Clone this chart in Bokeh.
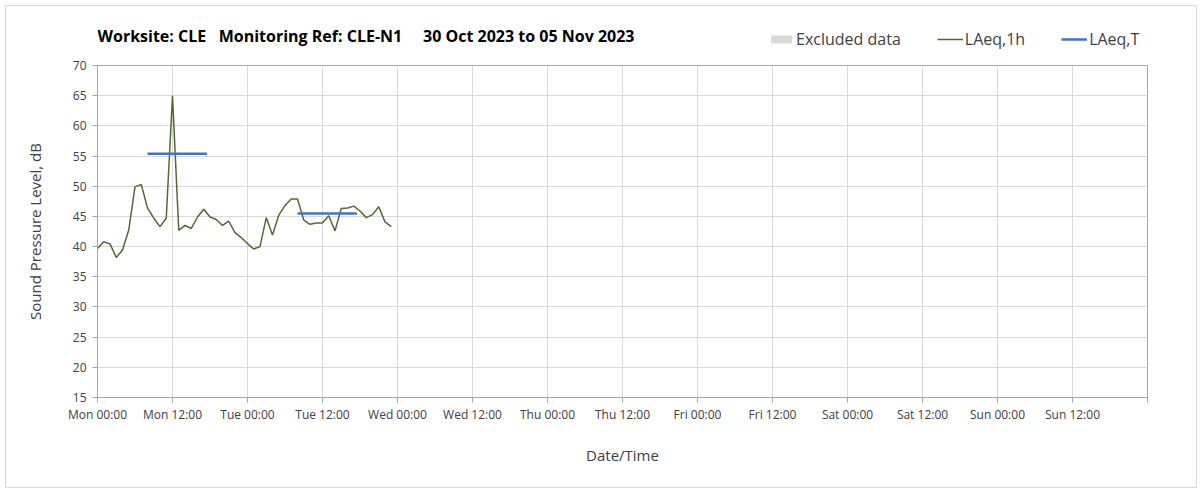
from bokeh.plotting import figure
from bokeh.layouts import column
from bokeh.models import Range1d, FixedTicker, Legend, LegendItem, ColumnDataSource, Label
from bokeh.embed import file_html
from bokeh.resources import INLINE

# ---- data ----
hours = list(range(48))  # hourly timestamps from Mon 30 Oct 2023 00:00
laeq_1h = [39.7, 40.8, 40.45, 38.2, 39.45, 42.75, 49.9, 50.3, 46.4, 44.7, 43.3, 44.7,
           65.0, 42.7, 43.5, 43.0, 44.9, 46.2, 44.9, 44.5, 43.5, 44.2, 42.3, 41.5,
           40.5, 39.6, 40.0, 44.8, 41.9, 45.2, 46.8, 47.9, 47.9, 44.4, 43.7, 43.9,
           43.9, 45.1, 42.6, 46.3, 46.4, 46.7, 45.9, 44.8, 45.3, 46.6, 44.1, 43.3]
laeq_t_start = [8, 32]
laeq_t_end = [17.5, 41.5]
laeq_t_value = [55.4, 45.5]
excluded_start = []   # no excluded periods in this week
excluded_end = []
tick_hours = [0, 12, 24, 36, 48, 60, 72, 84, 96, 108, 120, 132, 144, 156, 168]
tick_labels = ["Mon 00:00", "Mon 12:00", "Tue 00:00", "Tue 12:00", "Wed 00:00", "Wed 12:00",
               "Thu 00:00", "Thu 12:00", "Fri 00:00", "Fri 12:00", "Sat 00:00", "Sat 12:00",
               "Sun 00:00", "Sun 12:00", ""]
y_ticks = [15, 20, 25, 30, 35, 40, 45, 50, 55, 60, 65, 70]
title_text = "Worksite: CLE\u00a0\u00a0\u00a0Monitoring Ref: CLE-N1\u00a0\u00a0\u00a0\u00a0\u00a030 Oct 2023 to 05 Nov 2023"
legend_labels = ["Excluded data", "LAeq,1h", "LAeq,T"]

FONT = "Open Sans"
TXT = "#404040"
C_EXCL, C_1H, C_T = "#d9d9d9", "#4f6b30", "#4472c4"
W = 1190
HEAD_H = 45
BL, BR = 91, 49
FRAME_W = W - BL - BR

# ---- header: title + legend ----
head = figure(width=W, height=HEAD_H, output_backend="svg", toolbar_location=None,
              x_range=Range1d(0, FRAME_W), y_range=Range1d(0, HEAD_H),
              x_axis_location=None, y_axis_location=None, title_location=None,
              min_border_left=BL, min_border_right=BR, min_border_top=0, min_border_bottom=0,
              outline_line_color=None)
head.xgrid.visible = False
head.ygrid.visible = False
head.add_layout(Label(x=0, y=16, text=title_text, text_font=FONT,
                      text_font_size="16px", text_font_style="bold", text_color="#000000",
                      text_baseline="middle", text_align="left"))
nan = float("nan")
k1 = head.quad(left=[nan], right=[nan], top=[nan], bottom=[nan], fill_color=C_EXCL, line_color=None)
k2 = head.line([nan], [nan], line_color=C_1H, line_width=1.5)
k3 = head.line([nan], [nan], line_color=C_T, line_width=2.5)
legend = Legend(items=[LegendItem(label=legend_labels[0], renderers=[k1]),
                       LegendItem(label=legend_labels[1], renderers=[k2]),
                       LegendItem(label=legend_labels[2], renderers=[k3])],
                orientation="horizontal", location=(671, 1),
                label_text_font=FONT, label_text_font_size="16px", label_text_color=TXT,
                glyph_width=26, glyph_height=10, label_standoff=2, spacing=36,
                padding=0, margin=0, border_line_alpha=0, background_fill_alpha=0)
head.add_layout(legend, "center")

# ---- main chart ----
p = figure(width=W, height=436, output_backend="svg", toolbar_location=None,
           x_range=Range1d(0, 168), y_range=Range1d(15, 70), title_location=None,
           min_border_left=BL, min_border_right=BR, min_border_top=14, min_border_bottom=90)

p.outline_line_color = "#a6a6a6"
p.xgrid.grid_line_color = "#d9d9d9"
p.ygrid.grid_line_color = "#d9d9d9"

p.xaxis.ticker = FixedTicker(ticks=tick_hours)
p.xaxis.major_label_overrides = {h: lab for h, lab in zip(tick_hours, tick_labels)}
p.yaxis.ticker = FixedTicker(ticks=y_ticks)
p.xgrid.ticker = FixedTicker(ticks=tick_hours)
p.ygrid.ticker = FixedTicker(ticks=y_ticks)

for ax in (p.xaxis[0], p.yaxis[0]):
    ax.axis_line_color = "#a6a6a6"
    ax.major_tick_line_color = "#a6a6a6"
    ax.major_tick_in = 0
    ax.major_tick_out = 5
    ax.minor_tick_line_color = None
    ax.major_label_text_font = FONT
    ax.major_label_text_font_size = "12px"
    ax.major_label_text_color = TXT
    ax.axis_label_text_font = FONT
    ax.axis_label_text_font_size = "15px"
    ax.axis_label_text_font_style = "normal"
    ax.axis_label_text_color = TXT

p.xaxis.axis_label = "Date/Time"
p.yaxis.axis_label = "Sound Pressure Level, dB"
p.xaxis.major_label_standoff = 3
p.yaxis.major_label_standoff = 6
p.xaxis.axis_label_standoff = 19
p.yaxis.axis_label_standoff = 25

p.quad(left=excluded_start, right=excluded_end, top=[70] * len(excluded_start),
       bottom=[15] * len(excluded_start), fill_color=C_EXCL, line_color=None)
p.line(hours, laeq_1h, line_color=C_1H, line_width=1.5)
src_t = ColumnDataSource(dict(x0=laeq_t_start, x1=laeq_t_end, y=laeq_t_value))
p.segment(x0="x0", x1="x1", y0="y", y1="y", source=src_t, line_color=C_T, line_width=2.5)

layout = column(head, p, spacing=0)
layout.styles = {"border": "1px solid #d9d9d9", "margin": "5px 0 0 5px"}

open("out.html", "w").write(file_html(layout, INLINE))
